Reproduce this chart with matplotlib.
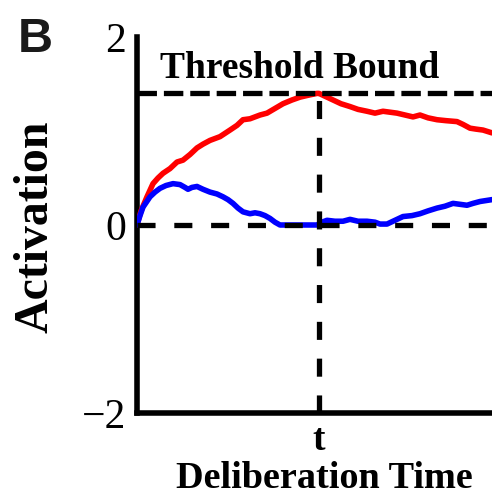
import matplotlib
matplotlib.use("Agg")
import matplotlib.pyplot as plt

plt.rcParams['lines.scale_dashes'] = False

# ---- data (time in arbitrary units, decision time t = 182) ----
t_decision = 182
threshold = 1.4

time_red = [0, 4, 10, 16, 21, 26, 33, 40, 46, 53, 60, 66, 73, 83, 93, 100, 106,
            113, 123, 130, 138, 146, 155, 163, 171, 180, 182, 188, 196, 204, 213,
            221, 230, 238, 246, 253, 260, 268, 276, 283, 291, 300, 309, 320, 326,
            333, 339, 346, 355]
act_red = [0.0, 0.15, 0.30, 0.44, 0.50, 0.55, 0.60, 0.67, 0.69, 0.75, 0.82, 0.86,
           0.90, 0.94, 1.01, 1.06, 1.12, 1.13, 1.17, 1.19, 1.24, 1.29, 1.33, 1.36,
           1.38, 1.40, 1.40, 1.37, 1.33, 1.29, 1.26, 1.23, 1.21, 1.19, 1.21, 1.20,
           1.19, 1.17, 1.15, 1.17, 1.14, 1.12, 1.11, 1.10, 1.07, 1.03, 1.02, 1.01,
           0.98]

time_blue = [0, 3, 6, 13, 18, 23, 29, 36, 43, 48, 51, 55, 60, 66, 73, 80, 86, 91,
             96, 101, 106, 113, 118, 123, 128, 133, 138, 143, 153, 163, 173, 180,
             185, 190, 198, 206, 213, 221, 230, 238, 243, 250, 258, 266, 275, 283,
             291, 300, 308, 316, 323, 330, 336, 343, 349, 355]
act_blue = [0.0, 0.10, 0.19, 0.30, 0.35, 0.39, 0.42, 0.44, 0.43, 0.40, 0.38, 0.40,
            0.41, 0.38, 0.35, 0.33, 0.30, 0.27, 0.23, 0.18, 0.14, 0.12, 0.13, 0.12,
            0.10, 0.07, 0.03, 0.0, 0.0, 0.0, 0.0, 0.0, 0.03, 0.05, 0.04, 0.04, 0.06,
            0.04, 0.04, 0.03, 0.01, 0.01, 0.05, 0.09, 0.10, 0.12, 0.15, 0.18, 0.20,
            0.23, 0.22, 0.21, 0.23, 0.25, 0.26, 0.27]

ytick_vals = [-2, 0, 2]
ytick_labels = ['\u22122', '0', '2']
xtick_labels = ['t']

# ---- figure ----
fig = plt.figure(figsize=(4.92, 4.96), dpi=100)
W, H = 492, 496
ax = fig.add_axes([137 / W, 1 - 413 / H, 1 - 137 / W, (413 - 37) / H])
ax.set_xlim(0, 355)
ax.set_ylim(-2, 2)

ax.plot(time_red, act_red, color='#ff0000', lw=4.0, zorder=3,
        solid_capstyle='round', solid_joinstyle='round')
ax.plot(time_blue, act_blue, color='#0000ff', lw=4.0, zorder=4,
        solid_capstyle='round', solid_joinstyle='round')

ax.plot([0, 355], [threshold, threshold], color='black', lw=3.8,
        dashes=(14, 5), zorder=5, dash_capstyle='butt')
ax.plot([0, 355], [0, 0], color='black', lw=3.8,
        dashes=(13, 13.5), zorder=5, dash_capstyle='butt')
ax.plot([t_decision, t_decision], [-2, threshold], color='black', lw=3.8,
        dashes=(13, 13.5), zorder=5, dash_capstyle='butt')

for s in ['top', 'right']:
    ax.spines[s].set_visible(False)
for s in ['left', 'bottom']:
    ax.spines[s].set_linewidth(4)
    ax.spines[s].set_capstyle('projecting')

ax.set_yticks(ytick_vals)
ax.set_yticklabels(ytick_labels, family='Liberation Serif', fontsize=30)
ax.set_xticks([t_decision])
ax.set_xticklabels(xtick_labels, family='Liberation Serif', fontsize=27,
                   fontweight='bold')
ax.tick_params(axis='y', length=0, pad=8)
ax.tick_params(axis='x', length=0, pad=7)

fig.text(160 / W, 1 - 78 / H, 'Threshold Bound', family='Liberation Serif',
         fontsize=27, fontweight='bold', ha='left', va='baseline')
fig.text(324 / W, 1 - 488 / H, 'Deliberation Time', family='Liberation Serif',
         fontsize=27.5, fontweight='bold', ha='center', va='baseline')
fig.text(48 / W, 1 - 226.5 / H, 'Activation', family='Liberation Serif',
         fontsize=34.5, fontweight='bold', ha='center', va='baseline',
         rotation=90, rotation_mode='anchor')
fig.text(18 / W, 1 - 52 / H, 'B', family='Liberation Sans', fontsize=35,
         fontweight='bold', ha='left', va='baseline', color='#1a1a1a')

fig.savefig('out.png', dpi=100)
